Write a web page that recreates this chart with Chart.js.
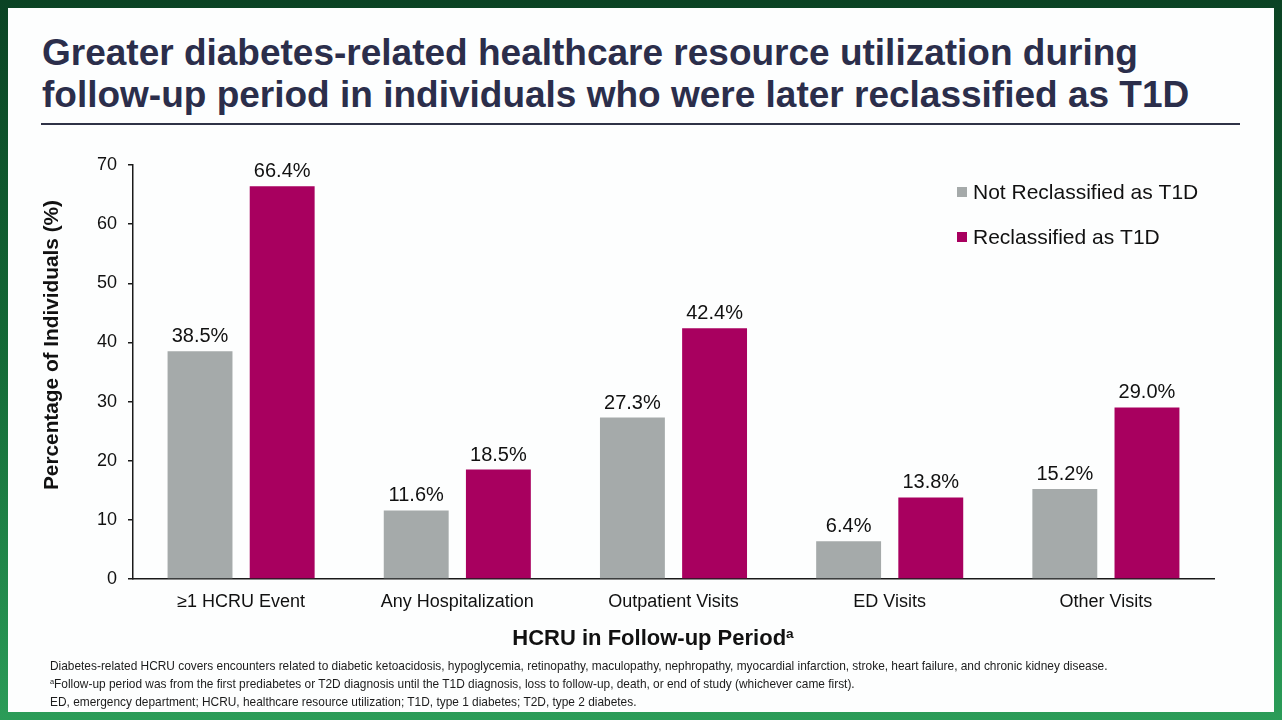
<!DOCTYPE html>
<html>
<head>
<meta charset="utf-8">
<script src="https://cdn.jsdelivr.net/npm/chart.js@4/dist/chart.umd.min.js"></script>
<style>
  html, body { margin: 0; padding: 0; }
  body {
    width: 1282px; height: 720px; position: relative; overflow: hidden;
    background: linear-gradient(180deg, #0b4324 0%, #146b37 50%, #2b9c58 100%);
    font-family: "Liberation Sans", Arial, sans-serif;
  }
  #slide { position: absolute; left: 8px; top: 8px; width: 1266px; height: 704px; background: #fdfefe; }
  #title {
    position: absolute; left: 42px; top: 32px; width: 1220px;
    font-size: 37px; line-height: 42px; font-weight: bold; color: #2b2e4b;
  }
  #rule { position: absolute; left: 41px; top: 123px; width: 1199px; height: 2px; background: #2f3347; }
  #chartBox { position: absolute; left: 0; top: 0; width: 1282px; height: 720px; }
  #xTitle {
    position: absolute; left: 453px; top: 625px; width: 400px; text-align: center;
    font-size: 22px; line-height: 26px; font-weight: bold; color: #111;
  }
  #xTitle sup, #notes sup { font-size: 62%; line-height: 0; vertical-align: 0.55em; }
  #notes {
    position: absolute; left: 50px; top: 657px; width: 1200px;
    font-size: 11.9px; line-height: 18px; color: #1c1c1c;
  }
</style>
</head>
<body>
<div id="slide"></div>
<div id="title">Greater diabetes-related healthcare resource utilization during<br>follow-up period in individuals who were later reclassified as T1D</div>
<div id="rule"></div>
<div id="chartBox"><canvas id="chart"></canvas></div>
<div id="xTitle">HCRU in Follow-up Period<sup>a</sup></div>
<div id="notes">
  Diabetes-related HCRU covers encounters related to diabetic ketoacidosis, hypoglycemia, retinopathy, maculopathy, nephropathy, myocardial infarction, stroke, heart failure, and chronic kidney disease.<br>
  <sup>a</sup>Follow-up period was from the first prediabetes or T2D diagnosis until the T1D diagnosis, loss to follow-up, death, or end of study (whichever came first).<br>
  ED, emergency department; HCRU, healthcare resource utilization; T1D, type 1 diabetes; T2D, type 2 diabetes.
</div>

<script>
// values
const categories = ['≥1 HCRU Event', 'Any Hospitalization', 'Outpatient Visits', 'ED Visits', 'Other Visits'];
const seriesNames = ['Not Reclassified as T1D', 'Reclassified as T1D'];
const notReclassified = [38.5, 11.6, 27.3, 6.4, 15.2];
const reclassified = [66.4, 18.5, 42.4, 13.8, 29.0];
const yTicks = [0, 10, 20, 30, 40, 50, 60, 70];

const GRAY = '#a5aaaa';
const MAGENTA = '#a8005f';
const FONT = '"Liberation Sans", Arial, sans-serif';

// numbers on top of the bars
const valueLabels = {
  id: 'valueLabels',
  afterDatasetsDraw(chart) {
    const ctx = chart.ctx;
    ctx.save();
    ctx.font = '20px ' + FONT;
    ctx.fillStyle = '#111';
    ctx.textAlign = 'center';
    ctx.textBaseline = 'alphabetic';
    chart.data.datasets.forEach((ds, i) => {
      chart.getDatasetMeta(i).data.forEach((bar, j) => {
        ctx.fillText(ds.data[j].toFixed(1) + '%', bar.x, bar.y - 9);
      });
    });
    ctx.restore();
  }
};

// legend stacked in the top right corner
const sideLegend = {
  id: 'sideLegend',
  afterDraw(chart) {
    const ctx = chart.ctx;
    ctx.save();
    ctx.font = '21px ' + FONT;
    ctx.textBaseline = 'middle';
    chart.data.datasets.forEach((ds, i) => {
      const y = 192 + i * 45;
      ctx.fillStyle = ds.backgroundColor;
      ctx.fillRect(957, y - 5, 10, 10);
      ctx.fillStyle = '#111';
      ctx.fillText(ds.label, 973, y + 1);
    });
    ctx.restore();
  }
};

// y title, placed like on the slide (not centred on the axis)
const yTitle = {
  id: 'yTitle',
  afterDraw(chart) {
    const ctx = chart.ctx;
    ctx.save();
    ctx.translate(52, 345);
    ctx.rotate(-Math.PI / 2);
    ctx.font = 'bold 20.8px ' + FONT;
    ctx.fillStyle = '#111';
    ctx.textAlign = 'center';
    ctx.textBaseline = 'middle';
    ctx.fillText('Percentage of Individuals (%)', 0, 0);
    ctx.restore();
  }
};

new Chart(document.getElementById('chart'), {
  type: 'bar',
  data: {
    labels: categories,
    datasets: [
      { label: seriesNames[0], data: notReclassified, backgroundColor: GRAY },
      { label: seriesNames[1], data: reclassified, backgroundColor: MAGENTA }
    ]
  },
  options: {
    responsive: true,
    maintainAspectRatio: false,
    animation: false,
    categoryPercentage: 0.76,
    barPercentage: 0.79,
    layout: { padding: { left: 30, top: 165, right: 68, bottom: 81 } },
    plugins: {
      legend: { display: false },
      title: { display: false },
      tooltip: { enabled: false }
    },
    scales: {
      x: {
        grid: { display: false },
        border: { color: '#1a1a1a', width: 1.5 },
        ticks: { font: { family: FONT, size: 18 }, color: '#111', padding: 4, maxRotation: 0 },
        afterFit: s => { s.height = 60; }
      },
      y: {
        min: 0,
        max: 70,
        afterBuildTicks: s => { s.ticks = yTicks.map(v => ({ value: v })); },
        grid: { drawOnChartArea: false, tickLength: 5, color: '#1a1a1a', lineWidth: 1.5 },
        border: { color: '#1a1a1a', width: 1.5 },
        ticks: { font: { family: FONT, size: 18 }, color: '#111', padding: 11 },
        afterFit: s => { s.width = 103; }
      }
    }
  },
  plugins: [valueLabels, sideLegend, yTitle]
});
</script>
</body>
</html>
